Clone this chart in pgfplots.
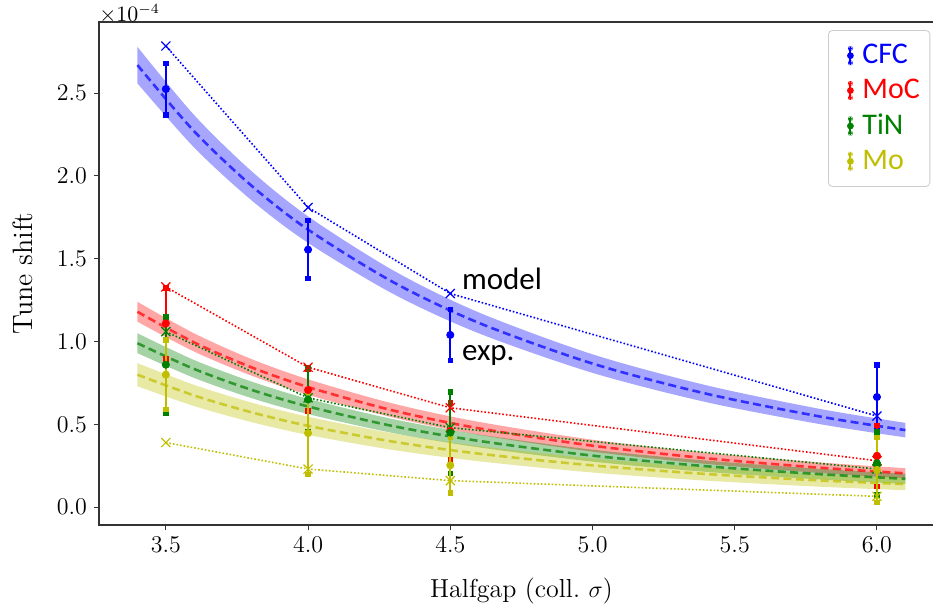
\documentclass[border=0pt]{standalone}
\usepackage{fontspec}
\usepackage{pgfplots}
\pgfplotsset{compat=1.18}
\usepgfplotslibrary{fillbetween}
\usepackage{pgfplotstable}
\newfontfamily\carlito{Carlito}
\definecolor{cfc}{RGB}{0,0,255}
\definecolor{moc}{RGB}{255,0,0}
\definecolor{tin}{RGB}{0,128,0}
\definecolor{mo}{RGB}{191,191,0}

% model bands (centre, upper, lower), units of 1e-4
\pgfplotstableread{
x   c     u     l
3.4 2.670 2.780 2.560
3.6 2.269 2.367 2.171
3.8 1.943 2.031 1.855
4.0 1.676 1.756 1.596
4.3 1.358 1.429 1.287
4.6 1.113 1.176 1.050
5.0 0.867 0.923 0.811
5.4 0.685 0.736 0.634
5.8 0.547 0.593 0.501
6.1 0.465 0.509 0.421
}\cfcband
\pgfplotstableread{
x   c     u     l
3.4 1.180 1.240 1.120
3.6 0.994 1.049 0.939
3.8 0.845 0.895 0.795
4.0 0.725 0.772 0.678
4.3 0.583 0.625 0.541
4.6 0.476 0.515 0.437
5.0 0.371 0.407 0.335
5.4 0.295 0.329 0.261
5.8 0.238 0.270 0.206
6.1 0.204 0.235 0.173
}\mocband
\pgfplotstableread{
x   c     u     l
3.4 0.990 1.050 0.930
3.6 0.834 0.888 0.780
3.8 0.709 0.759 0.659
4.0 0.608 0.654 0.562
4.3 0.489 0.531 0.447
4.6 0.400 0.439 0.361
5.0 0.311 0.347 0.275
5.4 0.247 0.281 0.213
5.8 0.199 0.231 0.167
6.1 0.171 0.202 0.140
}\tinband
\pgfplotstableread{
x   c     u     l
3.4 0.800 0.870 0.730
3.6 0.674 0.738 0.610
3.8 0.573 0.632 0.514
4.0 0.491 0.546 0.436
4.3 0.395 0.445 0.345
4.6 0.323 0.369 0.277
5.0 0.252 0.295 0.209
5.4 0.200 0.240 0.160
5.8 0.161 0.199 0.123
6.1 0.139 0.176 0.102
}\moband

% measurements (y, error) and model points (m)
\pgfplotstableread{
x   y     e     m
3.5 2.525 0.155 2.785
4.0 1.555 0.175 1.810
4.5 1.040 0.155 1.290
6.0 0.665 0.195 0.550
}\cfcdat
\pgfplotstableread{
x   y     e     m
3.5 1.110 0.215 1.330
4.0 0.707 0.127 0.845
4.5 0.460 0.170 0.600
6.0 0.310 0.185 0.280
}\mocdat
\pgfplotstableread{
x   y     e     m
3.5 0.860 0.290 1.060
4.0 0.650 0.195 0.660
4.5 0.450 0.245 0.480
6.0 0.265 0.190 0.230
}\tindat
\pgfplotstableread{
x   y     e     m
3.5 0.800 0.210 0.390
4.0 0.447 0.250 0.230
4.5 0.253 0.168 0.160
6.0 0.225 0.195 0.065
}\modat

\pgfplotsset{
  errleg/.style={legend image code/.code={
    \path[draw=none, fill=none] (0pt,0pt) -- (12pt,0pt);
    \draw[draw=#1, line width=1pt, solid] (8pt,-3.6pt) -- (8pt,3.6pt);
    \fill[fill=#1, draw=none] (6.9pt,-4.7pt) rectangle (9.1pt,-2.5pt);
    \fill[fill=#1, draw=none] (6.9pt,2.5pt) rectangle (9.1pt,4.7pt);
    \fill[fill=#1, draw=none] (8pt,0pt) circle (1.7pt);
  }},
  band/.style={draw=none, fill=#1, fill opacity=0.35, forget plot},
  centre/.style={#1, opacity=0.7, line width=1.3pt, dash pattern=on 4pt off 2.2pt, smooth, forget plot},
  model/.style={#1, line width=0.8pt, dash pattern=on 0.8pt off 1pt, mark=x, mark size=3.2pt,
    mark options={solid, line width=0.6pt}, forget plot},
  meas/.style={#1, only marks, mark=*, mark size=1.8pt, errleg=#1,
    error bars/.cd, y dir=both, y explicit,
    error bar style={line width=1pt, #1, solid},
    error mark=square*, error mark options={mark size=1.1pt, draw=#1, fill=#1, solid}},
}

\begin{document}
\begin{tikzpicture}
\begin{axis}[
  scale only axis,
  width=422.4pt, height=251.5pt,
  xmin=3.265, xmax=6.235,
  ymin=-0.108, ymax=2.93,
  xtick={3.5,4.0,4.5,5.0,5.5,6.0},
  ytick={0,0.5,1.0,1.5,2.0,2.5},
  xticklabel style={/pgf/number format/.cd, fixed, fixed zerofill, precision=1},
  yticklabel style={/pgf/number format/.cd, fixed, fixed zerofill, precision=1},
  tick label style={font=\fontsize{11.5}{12}\selectfont},
  tick pos=left, tick align=outside,
  major tick length=2.5pt,
  tick style={black!80, line width=0.5pt},
  axis line style={black!80, line width=0.6pt},
  xlabel={Halfgap (coll.\ $\sigma$)},
  ylabel={Tune shift},
  xlabel style={font=\fontsize{13}{14}\selectfont, yshift=-6pt},
  ylabel style={font=\fontsize{14}{15}\selectfont, yshift=5pt},
  legend style={at={(rel axis cs:0.984,0.984)}, anchor=north east,
    draw=black!20, rounded corners=2pt, fill=white,
    font=\carlito\fontsize{15}{18}\selectfont,
    inner xsep=3pt, inner ysep=5pt, row sep=2.2pt},
  legend cell align=left,
  clip=false,
]
% bands
\addplot[name path=cu, draw=none, forget plot, smooth] table[x=x,y=u]{\cfcband};
\addplot[name path=cl, draw=none, forget plot, smooth] table[x=x,y=l]{\cfcband};
\addplot[band=cfc] fill between[of=cu and cl];
\addplot[name path=ru, draw=none, forget plot, smooth] table[x=x,y=u]{\mocband};
\addplot[name path=rl, draw=none, forget plot, smooth] table[x=x,y=l]{\mocband};
\addplot[band=moc] fill between[of=ru and rl];
\addplot[name path=gu, draw=none, forget plot, smooth] table[x=x,y=u]{\tinband};
\addplot[name path=gl, draw=none, forget plot, smooth] table[x=x,y=l]{\tinband};
\addplot[band=tin] fill between[of=gu and gl];
\addplot[name path=yu, draw=none, forget plot, smooth] table[x=x,y=u]{\moband};
\addplot[name path=yl, draw=none, forget plot, smooth] table[x=x,y=l]{\moband};
\addplot[band=mo] fill between[of=yu and yl];
% centre lines
\addplot[centre=cfc] table[x=x,y=c]{\cfcband};
\addplot[centre=moc] table[x=x,y=c]{\mocband};
\addplot[centre=tin] table[x=x,y=c]{\tinband};
\addplot[centre=mo] table[x=x,y=c]{\moband};
% model points
\addplot[model=cfc] table[x=x,y=m]{\cfcdat};
\addplot[model=moc] table[x=x,y=m]{\mocdat};
\addplot[model=tin] table[x=x,y=m]{\tindat};
\addplot[model=mo] table[x=x,y=m]{\modat};
% measurements
\addplot[meas=cfc] table[x=x,y=y,y error=e]{\cfcdat};
\addlegendentry{\textcolor{cfc}{CFC}}
\addplot[meas=moc] table[x=x,y=y,y error=e]{\mocdat};
\addlegendentry{\textcolor{moc}{MoC}}
\addplot[meas=tin] table[x=x,y=y,y error=e]{\tindat};
\addlegendentry{\textcolor{tin}{TiN}}
\addplot[meas=mo] table[x=x,y=y,y error=e]{\modat};
\addlegendentry{\textcolor{mo}{Mo}}

\node[anchor=west, inner sep=0pt, font=\carlito\fontsize{15.5}{16}\selectfont] at (axis cs:4.54,1.377) {model};
\node[anchor=west, inner sep=0pt, font=\carlito\fontsize{15.5}{16}\selectfont] at (axis cs:4.54,0.918) {exp.};
\node[anchor=base west, inner sep=0pt, font=\fontsize{10.5}{11}\selectfont] at ([yshift=0.3pt]rel axis cs:0,1) {$\times10^{-4}$};

\coordinate (BL) at (rel axis cs:0,0);
\coordinate (TL) at (rel axis cs:0,1);
\end{axis}
\pgfresetboundingbox
\path[use as bounding box] ([shift={(-49.5pt,-43.5pt)}]BL) rectangle ([shift={(417pt,11pt)}]TL);
\end{tikzpicture}
\end{document}
